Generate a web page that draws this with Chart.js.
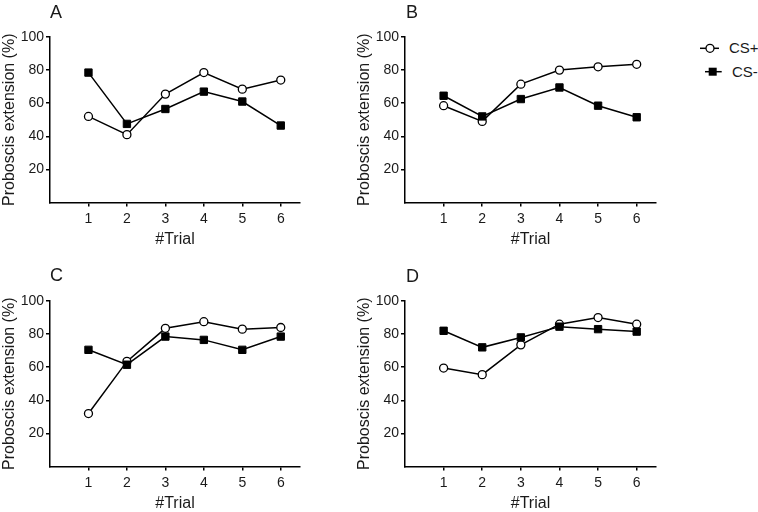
<!DOCTYPE html>
<html>
<head>
<meta charset="utf-8">
<title>Proboscis extension</title>
<script src="https://cdn.jsdelivr.net/npm/chart.js@4.4.1/dist/chart.umd.min.js"></script>
<style>
    html, body { margin: 0; padding: 0; background: #fff; overflow: hidden; }
    #wrap { position: relative; width: 758px; height: 512px; font-family: "Liberation Sans", Arial, sans-serif; color: #1a1a1a; }
    .panel { position: absolute; width: 330px; height: 260px; }
    .panel canvas { display: block; }
    .letter { position: absolute; font-size: 18px; line-height: 18px; }
    .leg-mark { position: absolute; }
    .leg-text { position: absolute; font-size: 15px; line-height: 20px; }
</style>
</head>
<body>
<div id="wrap">
    <div class="panel" style="left:0;top:0"><canvas id="chart-a" width="330" height="260"></canvas></div>
    <div class="panel" style="left:355px;top:0"><canvas id="chart-b" width="330" height="260"></canvas></div>
    <div class="panel" style="left:0;top:264px"><canvas id="chart-c" width="330" height="260"></canvas></div>
    <div class="panel" style="left:355px;top:264px"><canvas id="chart-d" width="330" height="260"></canvas></div>

    <div class="letter" style="left:50px;top:3px">A</div>
    <div class="letter" style="left:406px;top:3px">B</div>
    <div class="letter" style="left:50px;top:266px">C</div>
    <div class="letter" style="left:406px;top:267px">D</div>

    <!-- legend -->
    <svg class="leg-mark" style="left:699px;top:38px" width="24" height="20">
        <line x1="1" y1="10.3" x2="20" y2="10.3" stroke="#000" stroke-width="1.5"/>
        <circle cx="11" cy="10.3" r="4" fill="#fff" stroke="#000" stroke-width="1.3"/>
    </svg>
    <div class="leg-text" style="left:729px;top:38px">CS+</div>
    <svg class="leg-mark" style="left:704px;top:62px" width="22" height="20">
        <line x1="1" y1="9.7" x2="17.7" y2="9.7" stroke="#000" stroke-width="1.5"/>
        <rect x="4.7" y="5.7" width="8" height="8" fill="#000"/>
    </svg>
    <div class="leg-text" style="left:732px;top:62px">CS-</div>
</div>

<script>
'use strict';

// Data
const trials = [1, 2, 3, 4, 5, 6];
const yTicks = [20, 40, 60, 80, 100];

const csPlusA = [52, 41, 65.5, 78.5, 68.5, 74];
const csMinusA = [78.5, 47.5, 56.5, 67, 61, 46.5];

const csPlusB = [58.5, 49, 71.5, 80, 82, 83.5];
const csMinusB = [64.5, 52, 62.5, 69.5, 58.5, 51.5];

const csPlusC = [32, 63.5, 83.5, 87.5, 83, 84];
const csMinusC = [70.5, 61.5, 78.5, 76.5, 70.5, 78.5];

const csPlusD = [59.5, 55.5, 73.5, 86, 90, 86];
const csMinusD = [82, 72, 78, 84.5, 83, 81.5];

const fontFamily = '"Liberation Sans", Arial, sans-serif';
const textColor = '#1a1a1a';
const axisColor = '#000';

makePanel('chart-a', csPlusA, csMinusA, 30);
makePanel('chart-b', csPlusB, csMinusB, 29);
makePanel('chart-c', csPlusC, csMinusC, 30);
makePanel('chart-d', csPlusD, csMinusD, 29);

/**
 * Turn a value list into {x, y} points on the trial axis
 */
function buildPoints(values) {
    return trials.map(function(t, i) {
        return { x: t, y: values[i] };
    });
}

/**
 * Draw one panel
 */
function makePanel(canvasId, csPlus, csMinus, rightPad) {
    const ctx = document.getElementById(canvasId);
    if (!ctx) return;

    new Chart(ctx, {
        type: 'line',
        data: {
            datasets: [
                {
                    label: 'CS+',
                    data: buildPoints(csPlus),
                    order: 1,
                    borderColor: '#000',
                    borderWidth: 1.5,
                    pointStyle: 'circle',
                    pointRadius: 4,
                    pointBorderWidth: 1.3,
                    pointBackgroundColor: '#fff',
                    pointBorderColor: '#000',
                    tension: 0
                },
                {
                    label: 'CS-',
                    data: buildPoints(csMinus),
                    order: 0,
                    borderColor: '#000',
                    borderWidth: 1.5,
                    pointStyle: 'rect',
                    pointRadius: 5.2,
                    pointBorderWidth: 1,
                    pointBackgroundColor: '#000',
                    pointBorderColor: '#000',
                    tension: 0
                }
            ]
        },
        options: {
            responsive: false,
            animation: false,
            layout: {
                padding: { top: 37, right: rightPad, left: 0, bottom: 0 }
            },
            plugins: {
                legend: { display: false },
                tooltip: { enabled: false }
            },
            scales: {
                x: {
                    type: 'linear',
                    min: 0,
                    max: 6.5,
                    afterBuildTicks: function(scale) {
                        scale.ticks = trials.map(v => ({ value: v }));
                    },
                    afterFit: function(scale) {
                        scale.height = 57.5;
                    },
                    grid: {
                        drawOnChartArea: false,
                        color: axisColor,
                        lineWidth: 1.5,
                        tickLength: 4
                    },
                    border: { color: axisColor, width: 1.5 },
                    ticks: {
                        color: textColor,
                        font: { family: fontFamily, size: 14 },
                        padding: 4,
                        maxRotation: 0
                    },
                    title: {
                        display: true,
                        text: '#Trial',
                        color: textColor,
                        font: { family: fontFamily, size: 16 },
                        padding: { top: 0, bottom: 11 }
                    }
                },
                y: {
                    min: 0,
                    max: 100,
                    afterBuildTicks: function(scale) {
                        scale.ticks = yTicks.map(v => ({ value: v }));
                    },
                    afterFit: function(scale) {
                        scale.width = 50;
                    },
                    grid: {
                        drawOnChartArea: false,
                        color: axisColor,
                        lineWidth: 1.5,
                        tickLength: 4
                    },
                    border: { color: axisColor, width: 1.5 },
                    ticks: {
                        color: textColor,
                        font: { family: fontFamily, size: 14 },
                        padding: 2
                    },
                    title: {
                        display: true,
                        text: 'Proboscis extension (%)',
                        color: textColor,
                        font: { family: fontFamily, size: 16 },
                        padding: { top: 0, bottom: 0 }
                    }
                }
            }
        }
    });
}
</script>
</body>
</html>
